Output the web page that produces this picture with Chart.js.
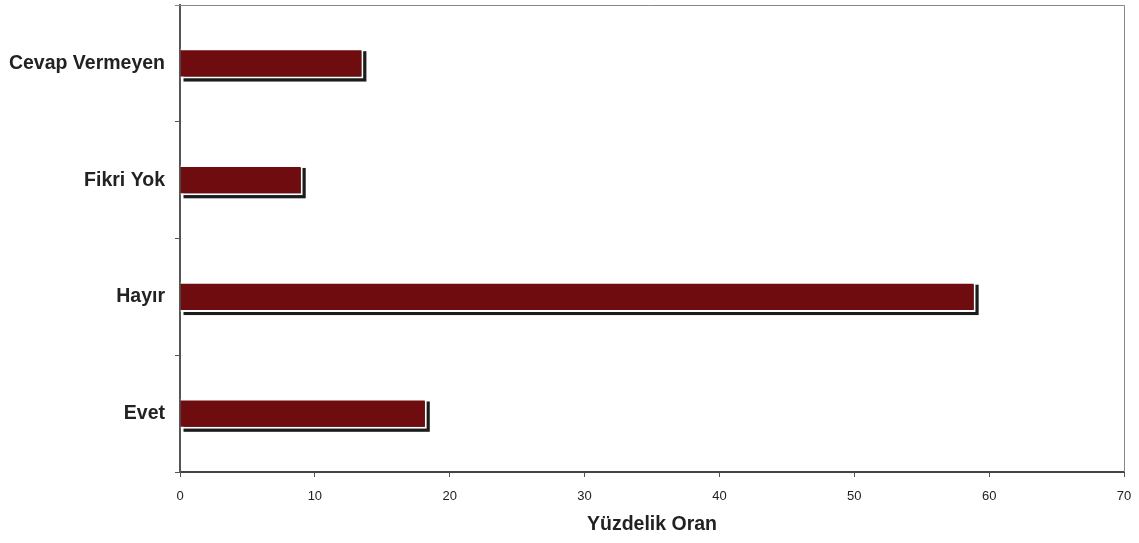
<!DOCTYPE html>
<html>
<head>
<meta charset="utf-8">
<script src="https://cdn.jsdelivr.net/npm/chart.js@4"></script>
<style>
html,body{margin:0;padding:0;background:#fff;}
#wrap{width:1139px;height:543px;}
</style>
</head>
<body>
<div id="wrap"><canvas id="c" width="1139" height="543"></canvas></div>
<script>
const categories = ["Cevap Vermeyen", "Fikri Yok", "Hayır", "Evet"];
const values = [13.6, 9.1, 59.0, 18.3];
const xTicks = [0, 10, 20, 30, 40, 50, 60, 70];
const xTitle = "Yüzdelik Oran";

const shadowPlugin = {
  id: 'barShadow',
  beforeDatasetDraw(chart, args) {
    const meta = chart.getDatasetMeta(args.index);
    const ctx = chart.ctx;
    ctx.save();
    ctx.fillStyle = '#1c1c1c';
    meta.data.forEach(el => {
      const p = el.getProps(['x', 'y', 'base', 'height'], true);
      const left = Math.min(p.base, p.x);
      const right = Math.max(p.base, p.x);
      ctx.fillRect(left + 3, p.y - p.height / 2 + 3, right - left, p.height);
    });
    ctx.restore();
  }
};

const framePlugin = {
  id: 'frame',
  afterDraw(chart) {
    const a = chart.chartArea;
    const ctx = chart.ctx;
    ctx.save();
    ctx.strokeStyle = '#888';
    ctx.lineWidth = 1;
    ctx.beginPath();
    ctx.moveTo(a.left - 5, a.top + 0.5);
    ctx.lineTo(a.right + 0.5, a.top + 0.5);
    ctx.lineTo(a.right + 0.5, a.bottom);
    ctx.stroke();
    ctx.restore();
  }
};

new Chart(document.getElementById('c'), {
  type: 'bar',
  data: {
    labels: categories,
    datasets: [{
      data: values,
      backgroundColor: '#6e0c10',
      borderColor: '#ffffff',
      borderWidth: 2,
      barPercentage: 0.26,
      categoryPercentage: 1.0
    }]
  },
  plugins: [shadowPlugin, framePlugin],
  options: {
    indexAxis: 'y',
    responsive: false,
    animation: false,
    events: [],
    layout: { padding: { top: 5, right: 15, bottom: 0, left: 0 } },
    plugins: { legend: { display: false }, tooltip: { enabled: false } },
    scales: {
      x: {
        type: 'linear',
        min: 0,
        max: 70,
        afterBuildTicks(scale) { scale.ticks = xTicks.map(v => ({ value: v })); },
        afterFit(scale) { scale.height = 71; scale.paddingLeft = 0; scale.paddingRight = 0; },
        grid: { drawOnChartArea: false, tickLength: 5, color: '#555' },
        border: { color: '#444', width: 2 },
        ticks: { color: '#222', padding: 12, font: { family: 'Liberation Sans, Arial', size: 13 } },
        title: {
          display: true,
          text: xTitle,
          color: '#222',
          padding: { top: 4, bottom: 7 },
          font: { family: 'Liberation Sans, Arial', size: 19.5, weight: 'bold' }
        }
      },
      y: {
        afterFit(scale) { scale.width = 180; scale.paddingTop = 0; scale.paddingBottom = 0; },
        grid: { drawOnChartArea: false, tickLength: 5, offset: true, color: '#555' },
        border: { color: '#555', width: 2 },
        ticks: { color: '#222', padding: 10, font: { family: 'Liberation Sans, Arial', size: 19.5, weight: 'bold' } }
      }
    }
  }
});
</script>
</body>
</html>
